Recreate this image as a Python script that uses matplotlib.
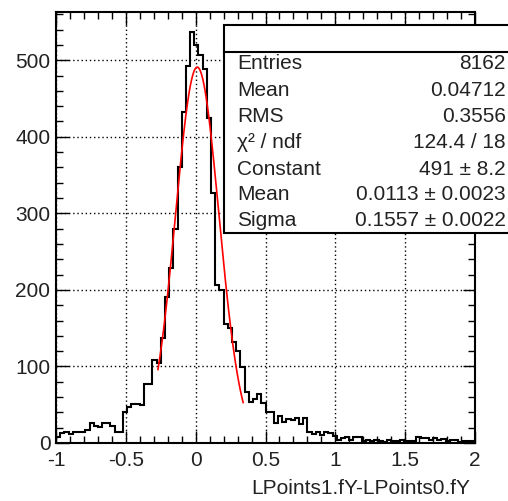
import numpy as np
import matplotlib.pyplot as plt
from matplotlib.patches import Rectangle
from matplotlib.ticker import MultipleLocator

plt.rcParams['font.family'] = ['Liberation Sans', 'DejaVu Sans']

# histogram: 100 bins from -1 to 2
x_lo, x_hi, n_bins = -1.0, 2.0, 100
counts = [8, 13, 15, 12, 15, 15, 15, 17, 26, 22, 21, 26, 26, 22, 15, 15, 41, 47, 51, 51, 50, 77, 77,
          108, 105, 137, 191, 228, 280, 360, 432, 492, 537, 520, 507, 488, 425, 326, 206, 200, 156,
          150, 132, 120, 99, 66, 53,
          58, 64, 52, 41, 41, 26, 35, 27, 32, 30, 33, 25, 33, 14, 12, 14, 10, 14, 13, 9, 4, 6, 8,
          4, 8, 8, 2, 4, 2, 4, 2, 1, 4, 2, 2, 4, 2, 2, 2, 8, 6, 6, 4, 6, 4, 5, 2, 4, 4, 1, 3, 3, 2]

# gaussian fit result
fit_const, fit_mean, fit_sigma = 491.0, 0.0113, 0.1557
fit_range = (-0.27, 0.34)

stat_labels = ["Entries", "Mean", "RMS", "χ² / ndf", "Constant", "Mean", "Sigma"]
stat_values = ["8162", "0.04712", "0.3556", "124.4 / 18", "491 ± 8.2",
               "0.0113 ± 0.0023", "0.1557 ± 0.0022"]

W, H = 508, 501
fs = 15
fig = plt.figure(figsize=(W / 100, H / 100), dpi=100)
ax = fig.add_axes([56 / W, 1 - 443 / H, (475 - 56) / W, (443 - 12) / H])

edges = np.linspace(x_lo, x_hi, n_bins + 1)
ax.stairs(counts, edges, color='black', lw=1.5, zorder=3)

xf = np.linspace(fit_range[0], fit_range[1], 200)
yf = fit_const * np.exp(-0.5 * ((xf - fit_mean) / fit_sigma) ** 2)
ax.plot(xf, yf, color='red', lw=1.2, zorder=4)

ax.set_xlim(x_lo, x_hi)
ax.set_ylim(0, 563)
ax.xaxis.set_minor_locator(MultipleLocator(0.1))
ax.yaxis.set_major_locator(MultipleLocator(100))
ax.yaxis.set_minor_locator(MultipleLocator(20))
ax.set_xticks([-1, -0.5, 0, 0.5, 1, 1.5, 2])
ax.set_xticklabels(["-1", "-0.5", "0", "0.5", "1", "1.5", "2"])

ax.grid(True, which='major', color='black', lw=1, linestyle=(0, (1, 2)))
ax.tick_params(which='both', direction='in', top=True, right=True, width=1,
               labelsize=fs, labelcolor='#222222')
ax.tick_params(axis='x', pad=5.5)
ax.tick_params(axis='y', pad=4)
ax.tick_params(which='major', length=9)
ax.tick_params(which='minor', length=5)
for s in ax.spines.values():
    s.set_linewidth(1.5)

fig.text(470 / W, 1 - 489 / H, "LPoints1.fY-LPoints0.fY", ha='right', va='center',
         fontsize=fs, color='#222222')

# stats box
box = Rectangle((224 / W, 1 - 233 / H), 0.6, (233 - 25) / H, transform=fig.transFigure,
                facecolor='white', edgecolor='black', lw=1.5, zorder=10, clip_on=False)
fig.add_artist(box)
fig.add_artist(plt.Line2D([224 / W, 1.0], [1 - 52 / H, 1 - 52 / H], transform=fig.transFigure,
                          color='black', lw=1.5, zorder=11))
row_y = [63.3, 90, 116.7, 142.7, 169.3, 194, 220]
for lab, val, yy in zip(stat_labels, stat_values, row_y):
    fig.text(237 / W, 1 - yy / H, lab, ha='left', va='center', fontsize=fs, zorder=12,
             color='#222222')
    fig.text(506 / W, 1 - yy / H, val, ha='right', va='center', fontsize=fs, zorder=12,
             color='#222222')

fig.savefig("out.png", dpi=100)
